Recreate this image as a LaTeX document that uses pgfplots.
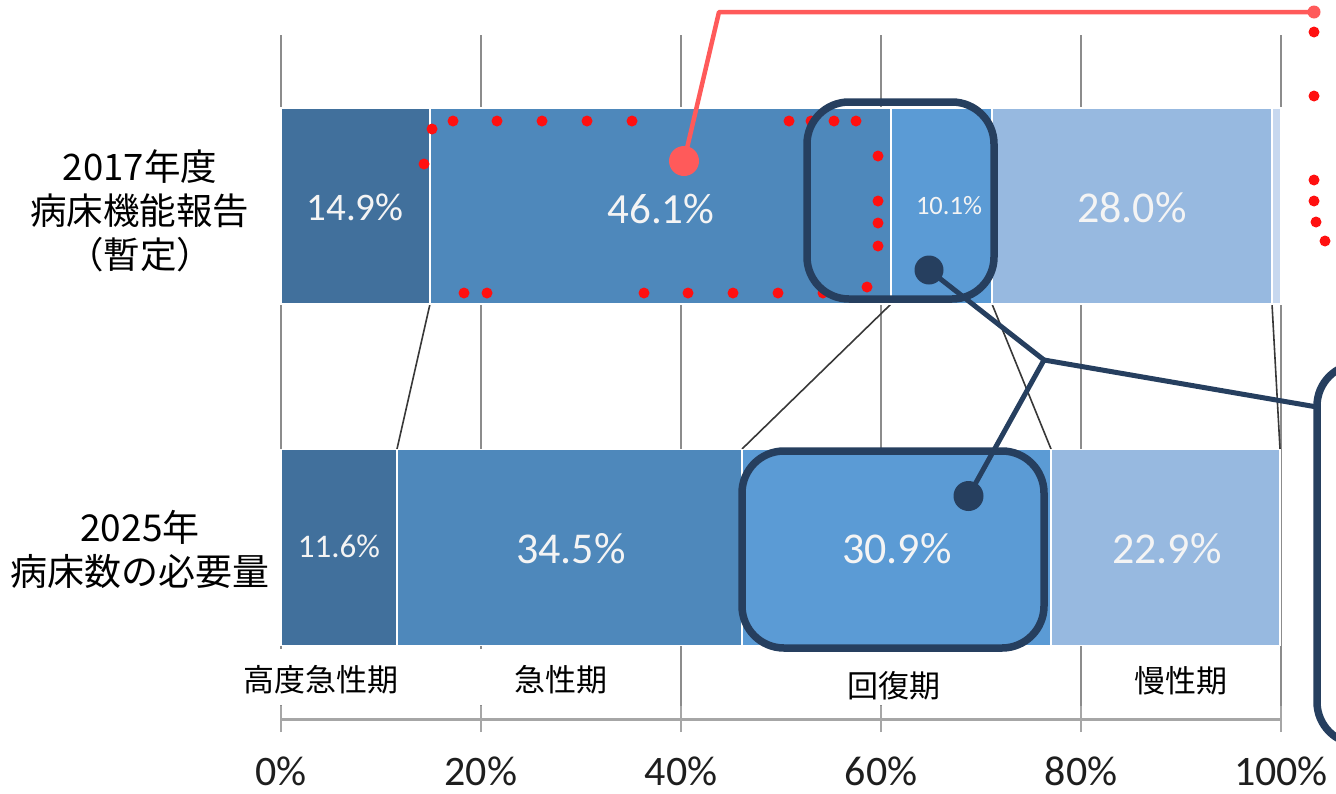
\documentclass[border=0pt]{standalone}
\usepackage{fontspec}
\setmainfont{Carlito}
\newfontfamily\jp{Noto Sans CJK JP}
\newfontfamily\jph[RawFeature=+halt]{Noto Sans CJK JP}
\usepackage{pgfplots}
\pgfplotsset{compat=1.18}
\definecolor{c1}{HTML}{41709C}
\definecolor{c2}{HTML}{4E88BB}
\definecolor{c3}{HTML}{5B9BD5}
\definecolor{c4}{HTML}{97B9E0}
\definecolor{c5}{HTML}{C7D8EF}
\definecolor{gridc}{HTML}{8C8C8C}
\definecolor{axisc}{HTML}{A6A6A6}
\definecolor{tickc}{HTML}{1E1E1E}
\definecolor{labc}{HTML}{F4F4F4}
\definecolor{navy}{HTML}{263F5F}
\definecolor{salmon}{HTML}{FF5A5A}
\definecolor{dotred}{HTML}{FF1010}
\definecolor{serc}{HTML}{383838}
\begin{document}
\begin{tikzpicture}[x=1pt,y=1pt]
\begin{axis}[
  at={(281,-719)}, anchor=south west,
  scale only axis, width=1000pt, height=684pt,
  xmin=0, xmax=100, ymin=-719, ymax=-35,
  xbar stacked, bar width=196pt,
  axis x line*=bottom, axis y line=none,
  xtick={0,20,40,60,80,100},
  xticklabels={0\%,20\%,40\%,60\%,80\%,100\%},
  ytick=\empty,
  xmajorgrids, grid style={color=gridc, line width=2pt},
  tick align=center, major tick length=26pt,
  x axis line style={color=axisc, line width=3pt},
  xtick style={color=axisc, line width=2.5pt},
  xticklabel style={font=\fontsize{42}{42}\selectfont, text=tickc, anchor=center, yshift=-39pt},
  clip=false,
]
\addplot[fill=c1, draw=white, line width=1.5pt] coordinates {(14.9,-206) (11.6,-547.5)};
\addplot[fill=c2, draw=white, line width=1.5pt] coordinates {(46.1,-206) (34.5,-547.5)};
\addplot[fill=c3, draw=white, line width=1.5pt] coordinates {(10.1,-206) (30.9,-547.5)};
\addplot[fill=c4, draw=white, line width=1.5pt] coordinates {(28.0,-206) (22.9,-547.5)};
\addplot[fill=c5, draw=white, line width=1.5pt] coordinates {(0.9,-206) (0,-547.5)};
\draw[serc, line width=1.6pt] (axis cs:14.9,-304) -- (axis cs:11.6,-449);
\draw[serc, line width=1.6pt] (axis cs:61.0,-304) -- (axis cs:46.1,-449);
\draw[serc, line width=1.6pt] (axis cs:71.1,-304) -- (axis cs:77.0,-449);
\draw[serc, line width=1.6pt] (axis cs:99.1,-304) -- (axis cs:99.9,-449);
\end{axis}
% white masks under category labels
\fill[white] (236,-649) rectangle (406,-705);
\fill[white] (450,-649) rectangle (640,-705);
\fill[white] (760,-652) rectangle (1030,-705);
% category labels
\begin{scope}[every node/.style={font=\jp\fontsize{31}{31}\selectfont, text=black, inner sep=0pt}]
\node at (321,-680) {高度急性期};
\node at (561,-680) {急性期};
\node at (894,-686) {回復期};
\node at (1181,-681) {慢性期};
\end{scope}
% left labels
\node[align=center, font=\jp\fontsize{36.5}{44}\selectfont, inner sep=0pt] at (140,-211) {2017年度\\病床機能報告\\{\jph （暫定）}};
\node[align=center, font=\jp\fontsize{37}{44}\selectfont, inner sep=0pt] at (140,-549) {2025年\\病床数の必要量};
% bar value labels
\begin{scope}[every node/.style={text=labc, inner sep=0pt}]
\node[font=\fontsize{39}{39}\selectfont] at (355,-207) {14.9\%};
\node[font=\fontsize{43}{43}\selectfont] at (661,-209) {46.1\%};
\node[font=\fontsize{26.5}{26.5}\selectfont] at (949,-206) {10.1\%};
\node[font=\fontsize{44}{44}\selectfont] at (1132,-208) {28.0\%};
\node[font=\fontsize{33}{33}\selectfont] at (339,-546) {11.6\%};
\node[font=\fontsize{44}{44}\selectfont] at (571,-549) {34.5\%};
\node[font=\fontsize{44}{44}\selectfont] at (897,-549) {30.9\%};
\node[font=\fontsize{44}{44}\selectfont] at (1167,-549) {22.9\%};
\end{scope}
% red dotted marks
\foreach \px/\py in {453/121,497/121,542/121,587/121,632/121,789/121,811/121,834/121,856/121,
  432/129,424/164,878/156,878/201,878/223,878/246,
  464/293,487/293,644/293,688/293,733/293,778/293,823/293,867/287,
  1314/32,1314/96,1314/180,1314/201,1316/222,1325/241}
  {\fill[dotred] (\px,-\py) circle (5.5);}
% salmon callout
\draw[salmon, line width=4.5pt, line join=round] (684,-161) -- (719,-12) -- (1314,-12);
\fill[salmon] (684,-161) circle (15);
\fill[salmon] (1314,-12) circle (6.5);
% navy callouts
\draw[navy, line width=5pt, line join=round] (929,-270) -- (1044,-360) -- (968.5,-496);
\draw[navy, line width=5pt] (1044,-360) -- (1317,-407);
\draw[navy, line width=7.5pt, rounded corners=42pt] (807,-102) rectangle (994,-299);
\draw[navy, line width=7.5pt, rounded corners=42pt] (742,-451) rectangle (1044,-648);
\draw[navy, line width=7.5pt, rounded corners=42pt, fill=white] (1317,-364) rectangle (1420,-744);
\fill[navy] (929,-270) circle (14.5);
\fill[navy] (968.5,-496) circle (15);
\pgfresetboundingbox
\useasboundingbox (0,0) rectangle (1336,-793);
\end{tikzpicture}
\end{document}
